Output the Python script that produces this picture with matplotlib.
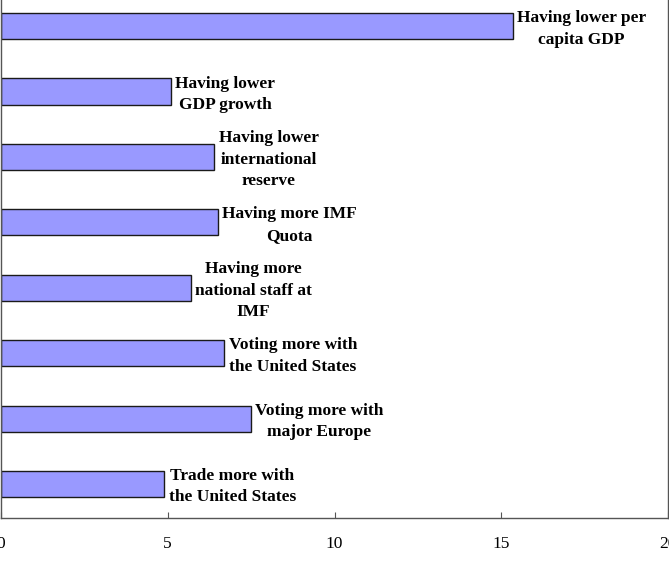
import matplotlib
matplotlib.use("Agg")
import matplotlib.pyplot as plt

# bottom to top
labels = ['Trade more with\nthe United States',
          'Voting more with\nmajor Europe',
          'Voting more with\nthe United States',
          'Having more\nnational staff at\nIMF',
          'Having more IMF\nQuota',
          'Having lower\ninternational\nreserve',
          'Having lower\nGDP growth',
          'Having lower per\ncapita GDP']
values = [4.9, 7.5, 6.7, 5.7, 6.5, 6.4, 5.1, 15.35]
xticks = [0, 5, 10, 15, 20]

plt.rcParams['font.family'] = ['Liberation Serif', 'DejaVu Serif']

fig = plt.figure(figsize=(6.69, 5.8), dpi=100)
ax = fig.add_axes([1/669, 62/580, 667/669, 518/580])

pos = list(range(len(values)))
ax.barh(pos, values, height=0.4, color='#9999ff', edgecolor='#1a1a1a', linewidth=1.0)

for p, v, lab in zip(pos, values, labels):
    ax.annotate(lab, (v, p), xytext=(3, -2), textcoords='offset points',
                ha='left', va='center', multialignment='center',
                fontsize=12.5, fontweight='bold', linespacing=1.45)

ax.set_xlim(0, 20)
ax.set_ylim(-0.52, 7.40)
ax.set_xticks(xticks)
ax.set_xticklabels([str(t) for t in xticks], fontsize=12.5)
ax.set_yticks([])
ax.tick_params(axis='x', direction='in', length=4, pad=13, color='#555555')
ax.spines['top'].set_visible(False)
for s in ['left', 'right', 'bottom']:
    ax.spines[s].set_color('#555555')
    ax.spines[s].set_linewidth(1.0)

fig.savefig('out.png', dpi=100)
